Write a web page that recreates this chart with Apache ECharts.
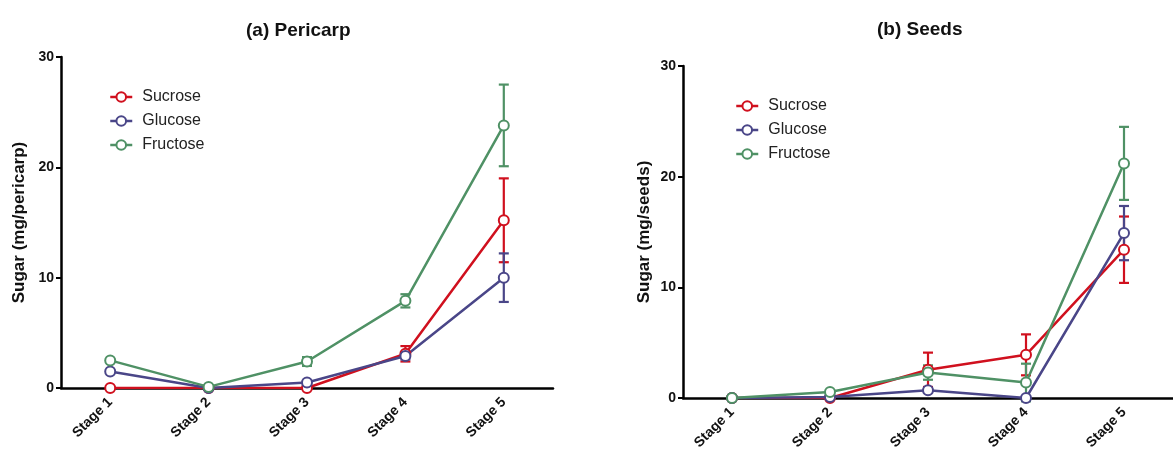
<!DOCTYPE html>
<html>
<head>
<meta charset="utf-8">
<script src="https://cdn.jsdelivr.net/npm/echarts@6/dist/echarts.min.js"></script>
<style>
html,body{margin:0;padding:0;background:#fff;}
#chart{width:1173px;height:457px;}
</style>
</head>
<body>
<div id="chart"></div>
<script>
// ---- data ----
const stages = ['Stage 1', 'Stage 2', 'Stage 3', 'Stage 4', 'Stage 5'];
const seriesNames = ['Sucrose', 'Glucose', 'Fructose'];
const yTicks = [0, 10, 20, 30];

// (a) Pericarp, mg/pericarp
const pericarpSucrose = [0, 0, 0, 3.1, 15.2];
const pericarpSucroseErr = [0, 0, 0, 0.7, 3.8];
const pericarpGlucose = [1.5, 0, 0.5, 2.9, 10.0];
const pericarpGlucoseErr = [0, 0, 0, 0.3, 2.2];
const pericarpFructose = [2.5, 0.1, 2.4, 7.9, 23.8];
const pericarpFructoseErr = [0, 0, 0.4, 0.6, 3.7];

// (b) Seeds, mg/seeds
const seedsSucrose = [0, 0, 2.55, 3.9, 13.4];
const seedsSucroseErr = [0, 0, 1.55, 1.85, 3.0];
const seedsGlucose = [0, 0.1, 0.7, 0, 14.9];
const seedsGlucoseErr = [0, 0, 0, 0, 2.45];
const seedsFructose = [0, 0.55, 2.3, 1.4, 21.2];
const seedsFructoseErr = [0, 0, 0.65, 1.7, 3.3];

const colors = {Sucrose: '#d0101e', Glucose: '#4a4688', Fructose: '#4f9165'};
const FONT = 'Liberation Sans, Arial, sans-serif';

const chart = echarts.init(document.getElementById('chart'), null, {renderer: 'canvas'});

function errData(vals, errs) {
  const out = [];
  vals.forEach((v, i) => { if (errs[i] > 0) out.push([i, v - errs[i], v + errs[i]]); });
  return out;
}
function errSeries(name, idx, vals, errs) {
  const color = colors[name];
  return {
    type: 'custom', name: name + ' error', xAxisIndex: idx, yAxisIndex: idx, z: 1,
    data: errData(vals, errs),
    encode: {x: 0, y: [1, 2]},
    silent: true,
    renderItem: function (params, api) {
      const x = api.value(0);
      const lo = api.coord([x, api.value(1)]);
      const hi = api.coord([x, api.value(2)]);
      const w = 5;
      const style = {stroke: color, lineWidth: 2.2, fill: null};
      return {type: 'group', children: [
        {type: 'line', shape: {x1: hi[0], y1: hi[1], x2: lo[0], y2: lo[1]}, style: style},
        {type: 'line', shape: {x1: hi[0] - w, y1: hi[1], x2: hi[0] + w, y2: hi[1]}, style: style},
        {type: 'line', shape: {x1: lo[0] - w, y1: lo[1], x2: lo[0] + w, y2: lo[1]}, style: style}
      ]};
    }
  };
}
function lineSeries(name, idx, vals) {
  return {
    type: 'line', name: name, xAxisIndex: idx, yAxisIndex: idx, z: 3,
    data: vals, symbol: 'circle', symbolSize: 10,
    color: colors[name],
    lineStyle: {color: colors[name], width: 2.5},
    itemStyle: {color: '#fff', borderColor: colors[name], borderWidth: 2},
    emphasis: {disabled: true}
  };
}

function xAxis(idx) {
  return {
    type: 'category', gridIndex: idx, data: stages, boundaryGap: true,
    axisLine: {lineStyle: {color: '#000', width: 2.5}},
    axisTick: {alignWithLabel: true, length: 6, lineStyle: {color: '#000', width: 2}},
    axisLabel: {rotate: 45, fontFamily: FONT, fontWeight: 'bold', fontSize: 14, color: '#111', margin: 12, interval: 0}
  };
}
function yAxis(idx, name, gap) {
  return {
    type: 'value', gridIndex: idx, min: yTicks[0], max: yTicks[yTicks.length - 1], interval: 10,
    name: name, nameLocation: 'middle', nameRotate: 90, nameGap: gap,
    nameTextStyle: {fontFamily: FONT, fontWeight: 'bold', fontSize: 17, color: '#111'},
    axisLine: {show: true, lineStyle: {color: '#000', width: 2.5}},
    axisTick: {show: true, length: 5, lineStyle: {color: '#000', width: 2}},
    axisLabel: {fontFamily: FONT, fontWeight: 'bold', fontSize: 14, color: '#111', margin: 7},
    splitLine: {show: false}
  };
}
function legend(idx, left, top) {
  return {
    left: left, top: top, padding: 0, orient: 'vertical', itemWidth: 22, itemHeight: 12, itemGap: 8,
    data: seriesNames.map(n => ({name: n, itemStyle: {color: '#fff', borderColor: colors[n], borderWidth: 2}, lineStyle: {color: colors[n], width: 2.5}})),
    textStyle: {fontFamily: FONT, fontSize: 16, lineHeight: 16, color: '#222', padding: [0, 0, 0, 5]},
    selectedMode: false
  };
}

const option = {
  animation: false,
  backgroundColor: '#fff',
  title: [
    {text: '(a) Pericarp', left: 241, top: 16, textStyle: {fontFamily: FONT, fontWeight: 'bold', fontSize: 19, color: '#111'}},
    {text: '(b) Seeds', left: 872, top: 15, textStyle: {fontFamily: FONT, fontWeight: 'bold', fontSize: 19, color: '#111'}}
  ],
  grid: [
    {left: 61, top: 57, width: 492, height: 331},
    {left: 683, top: 66, width: 497, height: 332}
  ],
  legend: [legend(0, 109, 89), legend(1, 735, 98)],
  xAxis: [xAxis(0), xAxis(1)],
  yAxis: [yAxis(0, 'Sugar (mg/pericarp)', 33), yAxis(1, 'Sugar (mg/seeds)', 30)],
  series: [
    errSeries('Sucrose', 0, pericarpSucrose, pericarpSucroseErr),
    errSeries('Glucose', 0, pericarpGlucose, pericarpGlucoseErr),
    errSeries('Fructose', 0, pericarpFructose, pericarpFructoseErr),
    lineSeries('Sucrose', 0, pericarpSucrose),
    lineSeries('Glucose', 0, pericarpGlucose),
    lineSeries('Fructose', 0, pericarpFructose),
    errSeries('Sucrose', 1, seedsSucrose, seedsSucroseErr),
    errSeries('Glucose', 1, seedsGlucose, seedsGlucoseErr),
    errSeries('Fructose', 1, seedsFructose, seedsFructoseErr),
    lineSeries('Sucrose', 1, seedsSucrose),
    lineSeries('Glucose', 1, seedsGlucose),
    lineSeries('Fructose', 1, seedsFructose)
  ]
};
chart.setOption(option);
</script>
</body>
</html>
